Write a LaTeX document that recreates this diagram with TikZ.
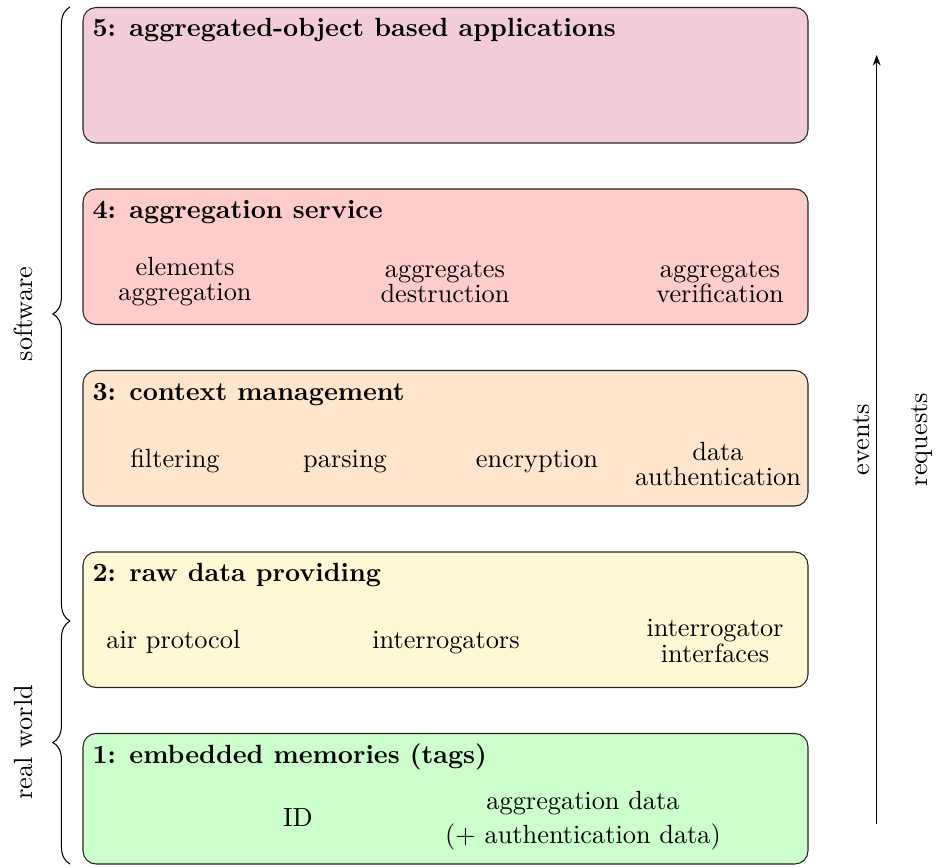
\documentclass[tikz,border=0pt]{standalone}
\usetikzlibrary{decorations.pathreplacing,arrows.meta}
\definecolor{c5}{RGB}{242,204,218}
\definecolor{c4}{RGB}{255,204,204}
\definecolor{c3}{RGB}{255,229,204}
\definecolor{c2}{RGB}{255,248,213}
\definecolor{c1}{RGB}{204,255,204}
\begin{document}
\begin{tikzpicture}[x=0.38pt,y=-0.38pt,
  layer/.style={draw=black!85, rounded corners=5pt, minimum width=275.5pt, minimum height=51.5pt, inner sep=0pt},
  ltitle/.style={anchor=base west, font=\bfseries, inner sep=0pt},
  item/.style={align=center, inner sep=0pt},
  bitem/.style={anchor=base, inner sep=0pt},
  bracestyle/.style={decorate, decoration={brace, amplitude=6.5pt}},
  side/.style={rotate=90, anchor=base, inner sep=0pt}]
\useasboundingbox (0,0) rectangle (939,868);

% layers
\node[layer, fill=c5] (L5) at (445.5,75.25) {};
\node[layer, fill=c4] (L4) at (445.5,256.75) {};
\node[layer, fill=c3] (L3) at (445.5,438.25) {};
\node[layer, fill=c2] (L2) at (445.5,619.75) {};
\node[layer, fill=c1, minimum height=49.6pt] (L1) at (445.5,798.75) {};

% titles
\node[ltitle] (T5) at (92,37) {5: aggregated-object based applications};
\node[ltitle] (T4) at (92,218.5) {4: aggregation service};
\node[ltitle] (T3) at (92,400) {3: context management};
\node[ltitle] (T2) at (92,581.5) {2: raw data providing};
\node[ltitle] (T1) at (92,763) {1: embedded memories (tags)};

% layer 4
\node[item] (ea) at (185,282) {elements\\[-2.5pt]aggregation};
\node[item] (ad) at (445,282) {aggregates\\[-2.5pt]destruction};
\node[item] (av) at (720,282) {aggregates\\[-2.5pt]verification};

% layer 3
\node[bitem] (fi) at (175,467) {filtering};
\node[bitem] (pa) at (345,467) {parsing};
\node[bitem] (en) at (537,467) {encryption};
\node[item] (da) at (718,464) {data\\[-2.5pt]authentication};

% layer 2
\node[bitem] (ap) at (173.4,648.5) {air protocol};
\node[bitem] (ir) at (446,648.5) {interrogators};
\node[item] (ii) at (715,641) {interrogator\\[-2pt]interfaces};

% layer 1
\node[bitem] (id) at (298,826) {ID};
\node[item] (ag) at (583,821) {aggregation data\\[1pt](+ authentication data)};

% events / requests arrow
\coordinate (ab) at (876.7,824);
\coordinate (at) at (876.7,55);
\draw[-{Stealth[length=4pt,width=3pt]}] (ab) -- (at);
\node[side] (ev) at (869,439.5) {events};
\node[side] (rq) at (927,439.5) {requests};

% braces
\coordinate (s1) at (70,621);
\coordinate (s2) at (70,7);
\coordinate (r1) at (70,864);
\draw[bracestyle] (s1) -- (s2);
\draw[bracestyle] (r1) -- (s1);
\node[side] (sw) at (32,314) {software};
\node[side] (rw) at (32,742.5) {real world};
\end{tikzpicture}
\end{document}
